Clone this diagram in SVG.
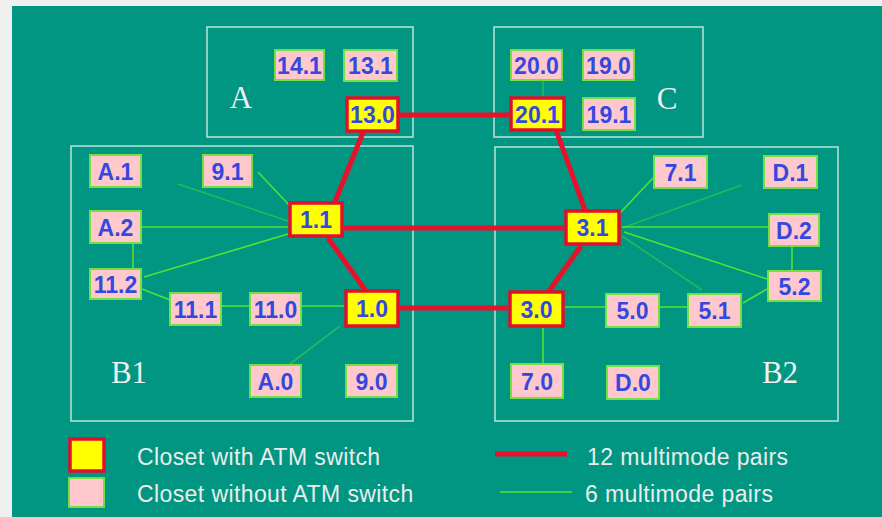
<svg xmlns="http://www.w3.org/2000/svg" width="882" height="517" viewBox="0 0 882 517">
<style>
.bg{fill:#009682}
.region{fill:none;stroke:#bfe3da;stroke-width:1.5}
.rl{font-family:"Liberation Serif",serif;font-size:31px;fill:#f0f0f0;text-anchor:middle}
.pk{fill:#ffc8cc;stroke:#77dd44;stroke-width:2}
.yl{fill:#ffff00;stroke:#e0102c;stroke-width:3.5}
.nt{font-family:"Liberation Sans",Arial,sans-serif;font-weight:bold;font-size:23px;fill:#3348e0;text-anchor:middle}
.red{stroke:#e8102a;stroke-width:5;fill:none}
.grn{stroke:#55e033;stroke-width:1.6;fill:none}
.faint{opacity:0.45}
.lt{font-family:"Liberation Sans",Arial,sans-serif;font-size:23px;letter-spacing:0.4px;fill:#ececec}
</style>
<rect x="0" y="0" width="882" height="517" fill="#f0f0f0"/>
<rect class="bg" x="12" y="6" width="870" height="511"/>

<g id="regions">
<rect class="region" x="207" y="27" width="206" height="110"/>
<rect class="region" x="494" y="27" width="209" height="110"/>
<rect class="region" x="71" y="146" width="342" height="275"/>
<rect class="region" x="495" y="147" width="343" height="274"/>
<text class="rl" x="241" y="108">A</text>
<text class="rl" x="667" y="109">C</text>
<text class="rl" x="129" y="383">B1</text>
<text class="rl" x="780" y="383">B2</text>
</g>

<g id="connectors">
<line class="red" x1="400" y1="115" x2="509" y2="115"/>
<line class="red" x1="364" y1="130" x2="334" y2="204"/>
<line class="red" x1="344" y1="228" x2="564" y2="228"/>
<line class="red" x1="328" y1="238" x2="366" y2="291"/>
<line class="red" x1="400" y1="308" x2="508" y2="308"/>
<line class="red" x1="556" y1="130" x2="585" y2="210"/>
<line class="red" x1="581" y1="246" x2="549" y2="291"/>

<line class="grn faint" x1="178" y1="184" x2="288" y2="221"/>
<line class="grn" x1="258" y1="172" x2="290" y2="206"/>
<line class="grn" x1="142" y1="227" x2="288" y2="227"/>
<line class="grn" x1="144" y1="277" x2="288" y2="234"/>
<line class="grn" x1="133" y1="244" x2="133" y2="268"/>
<line class="grn" x1="142" y1="289" x2="170" y2="300"/>
<line class="grn" x1="222" y1="306" x2="249" y2="306"/>
<line class="grn" x1="302" y1="306" x2="344" y2="306"/>
<line class="grn faint" x1="340" y1="326" x2="290" y2="364"/>

<line class="grn faint" x1="543" y1="81" x2="543" y2="96"/>
<line class="grn" x1="653" y1="178" x2="620" y2="213"/>
<line class="grn faint" x1="742" y1="185" x2="622" y2="228"/>
<line class="grn" x1="622" y1="227" x2="768" y2="227"/>
<line class="grn" x1="624" y1="232" x2="767" y2="279"/>
<line class="grn faint" x1="622" y1="236" x2="702" y2="290"/>
<line class="grn" x1="792" y1="247" x2="792" y2="270"/>
<line class="grn" x1="767" y1="289" x2="743" y2="303"/>
<line class="grn" x1="660" y1="307" x2="687" y2="307"/>
<line class="grn" x1="565" y1="307" x2="605" y2="307"/>
<line class="grn" x1="543" y1="328" x2="543" y2="363"/>
</g>

<g id="n14_1"><rect class="pk" x="275" y="50" width="49" height="30"/><text class="nt" x="299.5" y="73.5">14.1</text></g>
<g id="n13_1"><rect class="pk" x="344" y="50" width="53" height="31"/><text class="nt" x="370.5" y="74">13.1</text></g>
<g id="n13_0"><rect class="yl" x="347" y="98" width="51" height="33"/><text class="nt" x="372.5" y="123">13.0</text></g>
<g id="n20_0"><rect class="pk" x="511" y="50" width="51" height="30"/><text class="nt" x="536.5" y="73.5">20.0</text></g>
<g id="n19_0"><rect class="pk" x="583" y="50" width="51" height="30"/><text class="nt" x="608.5" y="73.5">19.0</text></g>
<g id="n20_1"><rect class="yl" x="511" y="98" width="53" height="32"/><text class="nt" x="537.5" y="122.5">20.1</text></g>
<g id="n19_1"><rect class="pk" x="583" y="98" width="52" height="32"/><text class="nt" x="609" y="122.5">19.1</text></g>

<g id="nA_1"><rect class="pk" x="90" y="155" width="51" height="32"/><text class="nt" x="115.5" y="179.5">A.1</text></g>
<g id="n9_1"><rect class="pk" x="203" y="155" width="49" height="32"/><text class="nt" x="227.5" y="179.5">9.1</text></g>
<g id="nA_2"><rect class="pk" x="90" y="211" width="51" height="32"/><text class="nt" x="115.5" y="235.5">A.2</text></g>
<g id="n1_1"><rect class="yl" x="290" y="203" width="52" height="33"/><text class="nt" x="316" y="228">1.1</text></g>
<g id="n11_2"><rect class="pk" x="90" y="269" width="51" height="30"/><text class="nt" x="115.5" y="292.5">11.2</text></g>
<g id="n11_1"><rect class="pk" x="170" y="293" width="51" height="32"/><text class="nt" x="195.5" y="317.5">11.1</text></g>
<g id="n11_0"><rect class="pk" x="250" y="293" width="51" height="32"/><text class="nt" x="275.5" y="317.5">11.0</text></g>
<g id="n1_0"><rect class="yl" x="346" y="291" width="52" height="35"/><text class="nt" x="372" y="317">1.0</text></g>
<g id="nA_0"><rect class="pk" x="250" y="365" width="51" height="32"/><text class="nt" x="275.5" y="389.5">A.0</text></g>
<g id="n9_0"><rect class="pk" x="346" y="365" width="51" height="32"/><text class="nt" x="371.5" y="389.5">9.0</text></g>

<g id="n7_1"><rect class="pk" x="654" y="156" width="53" height="32"/><text class="nt" x="680.5" y="180.5">7.1</text></g>
<g id="nD_1"><rect class="pk" x="764" y="156" width="53" height="32"/><text class="nt" x="790.5" y="180.5">D.1</text></g>
<g id="n3_1"><rect class="yl" x="566" y="211" width="53" height="33"/><text class="nt" x="592.5" y="236">3.1</text></g>
<g id="nD_2"><rect class="pk" x="769" y="214" width="50" height="32"/><text class="nt" x="794" y="238.5">D.2</text></g>
<g id="n5_2"><rect class="pk" x="768" y="271" width="53" height="30"/><text class="nt" x="794.5" y="294.5">5.2</text></g>
<g id="n3_0"><rect class="yl" x="510" y="292" width="53" height="34"/><text class="nt" x="536.5" y="317.5">3.0</text></g>
<g id="n5_0"><rect class="pk" x="606" y="294" width="53" height="33"/><text class="nt" x="632.5" y="319">5.0</text></g>
<g id="n5_1"><rect class="pk" x="688" y="294" width="53" height="33"/><text class="nt" x="714.5" y="319">5.1</text></g>
<g id="n7_0"><rect class="pk" x="511" y="364" width="52" height="34"/><text class="nt" x="537" y="389.5">7.0</text></g>
<g id="nD_0"><rect class="pk" x="607" y="366" width="52" height="33"/><text class="nt" x="633" y="391">D.0</text></g>

<g id="legend">
<rect class="yl" x="70" y="439" width="34" height="32"/>
<rect class="pk" x="69" y="478" width="35" height="29"/>
<text class="lt" x="137" y="465">Closet with ATM switch</text>
<text class="lt" x="137" y="502">Closet without ATM switch</text>
<line class="red" x1="495" y1="454" x2="567" y2="454"/>
<line class="grn" x1="500" y1="492" x2="572" y2="492"/>
<text class="lt" x="587" y="465">12 multimode pairs</text>
<text class="lt" x="585" y="502">6 multimode pairs</text>
</g>
</svg>
